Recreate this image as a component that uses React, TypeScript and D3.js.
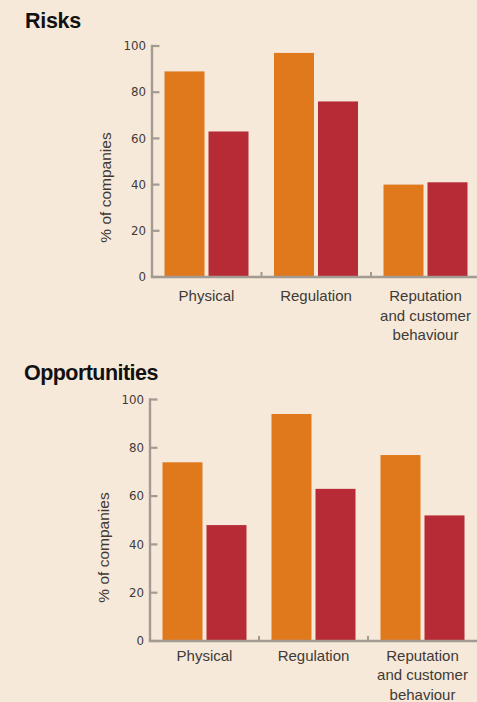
import React from "react";
import * as d3 from "d3";

// Shared categories and tick values
const categories = ["Physical", "Regulation", "Reputation and customer behaviour"];
const categoryLines = [["Physical"], ["Regulation"], ["Reputation", "and customer", "behaviour"]];
const yTicks = [0, 20, 40, 60, 80, 100];

// Risks panel values (% of companies)
const risksFirst = [89, 97, 40];
const risksSecond = [63, 76, 41];

// Opportunities panel values (% of companies)
const opportunitiesFirst = [74, 94, 77];
const opportunitiesSecond = [48, 63, 52];

const W = 477;
const H = 702;
const BG = "#f6e9da";
const ORANGE = "#e0791c";
const RED = "#b62b35";
const AXIS = "#a39a92";
const TEXT = "#3f3a36";

type PanelProps = {
  title: string;
  titleX: number;
  titleY: number;
  titleSpacing: number;
  axisX: number;
  top: number;
  bottom: number;
  step: number;
  labelOffset: number;
  yLabelCenter: number;
  first: number[];
  second: number[];
};

function Panel(p: PanelProps) {
  const x = d3
    .scaleBand<string>()
    .domain(categories)
    .range([p.axisX, p.axisX + p.step * categories.length])
    .paddingInner(0)
    .paddingOuter(0);
  const inner = d3
    .scaleBand<number>()
    .domain([0, 1])
    .range([12.5, 96.5])
    .paddingInner(4 / 44)
    .paddingOuter(0);
  const y = d3.scaleLinear().domain([0, 100]).range([p.bottom, p.top]);
  const series = [p.first, p.second];
  const colors = [ORANGE, RED];

  return (
    <g>
      <text
        x={p.titleX}
        y={p.titleY}
        fontFamily="'Liberation Sans', Arial, sans-serif"
        fontWeight="bold"
        fontSize={21.5}
        letterSpacing={p.titleSpacing}
        fill="#111"
      >
        {p.title}
      </text>

      {/* bars */}
      {categories.map((c, i) =>
        series.map((s, k) => (
          <rect
            key={c + k}
            x={(x(c) as number) + (inner(k) as number)}
            y={y(s[i])}
            width={inner.bandwidth()}
            height={y(0) - y(s[i])}
            fill={colors[k]}
          />
        ))
      )}

      {/* y axis */}
      <line x1={p.axisX} x2={p.axisX} y1={y(100) - 1.2} y2={y(0)} stroke={AXIS} strokeWidth={2.4} />
      {yTicks.map((t) => (
        <g key={t}>
          <line x1={p.axisX} x2={p.axisX + 7.5} y1={y(t)} y2={y(t)} stroke={AXIS} strokeWidth={2.2} />
          <text
            x={p.axisX - 6}
            y={y(t)}
            dy="0.36em"
            textAnchor="end"
            fontFamily="'DejaVu Sans', sans-serif"
            fontSize={11.8}
            fill={TEXT}
          >
            {t}
          </text>
        </g>
      ))}
      <text
        transform={`translate(${p.axisX - 41},${p.yLabelCenter}) rotate(-90)`}
        textAnchor="middle"
        fontFamily="'Liberation Sans', Arial, sans-serif"
        fontSize={15.5}
        fill={TEXT}
      >
        % of companies
      </text>

      {/* x axis */}
      <line x1={p.axisX - 1.2} x2={W} y1={y(0)} y2={y(0)} stroke={AXIS} strokeWidth={2.4} />
      {categories.slice(1).map((c) => (
        <line
          key={c}
          x1={x(c) as number}
          x2={x(c) as number}
          y1={y(0)}
          y2={y(0) - 5}
          stroke={AXIS}
          strokeWidth={2}
        />
      ))}
      {categories.map((c, i) => (
        <text
          key={c}
          x={(x(c) as number) + 54.5}
          y={y(0) + p.labelOffset}
          textAnchor="middle"
          fontFamily="'Liberation Sans', Arial, sans-serif"
          fontSize={15}
          fill={TEXT}
        >
          {categoryLines[i].map((ln, j) => (
            <tspan key={j} x={(x(c) as number) + 54.5} dy={j === 0 ? 0 : 19.5}>
              {ln}
            </tspan>
          ))}
        </text>
      ))}
    </g>
  );
}

export default function App() {
  return (
    <svg
      width={W}
      height={H}
      viewBox={`0 0 ${W} ${H}`}
      style={{ position: "absolute", left: 0, top: 0, display: "block", background: BG }}
    >
      <rect width={W} height={H} fill={BG} />
      <Panel
        title="Risks"
        titleX={25}
        titleY={27.5}
        titleSpacing={-0.3}
        axisX={152}
        top={46}
        bottom={277}
        step={109.5}
        labelOffset={24}
        yLabelCenter={187.5}
        first={risksFirst}
        second={risksSecond}
      />
      <Panel
        title="Opportunities"
        titleX={24}
        titleY={380}
        titleSpacing={-0.55}
        axisX={150}
        top={399.5}
        bottom={641}
        step={109}
        labelOffset={19.5}
        yLabelCenter={547.5}
        first={opportunitiesFirst}
        second={opportunitiesSecond}
      />
    </svg>
  );
}
